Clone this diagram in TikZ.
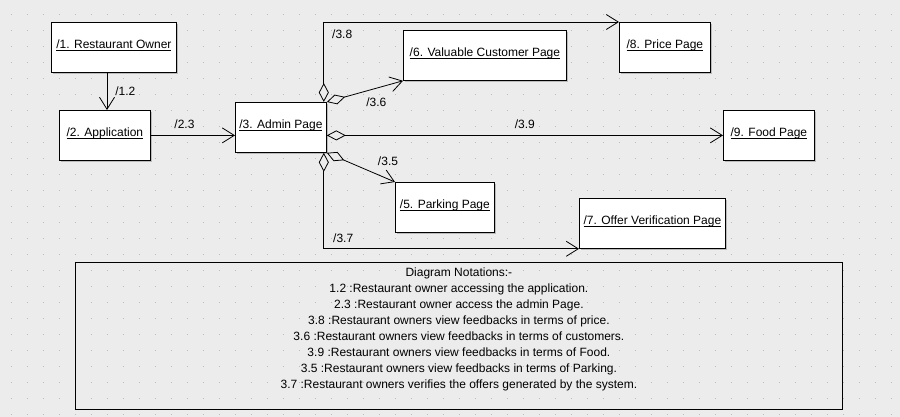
\documentclass[tikz,border=0pt]{standalone}
\usepackage{fontspec}
\setmainfont{Liberation Sans}
\usetikzlibrary{arrows.meta,shadows}

\definecolor{canvas}{RGB}{236,236,236}
\definecolor{dotgray}{RGB}{188,188,188}
\newsavebox\ulbox
\newcommand\uln[1]{\sbox\ulbox{#1}\rlap{\vrule height -1.6pt depth 2.4pt width \wd\ulbox}\usebox\ulbox}

\begin{document}
\begin{tikzpicture}
	[   x=1pt,y=-1pt,
		page/.style={draw=black,fill=white,line width=0.8pt,minimum width=#1,inner sep=0pt,
			text height=26pt,text depth=24pt,font=\fontsize{12}{14}\selectfont,
			drop shadow={shadow xshift=1.5pt,shadow yshift=-1.5pt,fill=black!45,opacity=.5}},
		lbl/.style={inner sep=1pt,font=\fontsize{12}{14}\selectfont},
	]
	\tikzset{flow/.style={draw,line width=0.8pt,-{Straight Barb[length=12pt,width=15pt]}}}
	\tikzset{part/.style={flow,{Diamond[open,length=19pt,width=10pt]}-{Straight Barb[length=12pt,width=15pt]}}}

	\fill[canvas] (0,0) rectangle (900,417);
	\useasboundingbox (0,0) rectangle (900,417);
	\foreach \i in {0,...,55}
	{
		\foreach \j in {0,...,25}
		{
			\fill[dotgray] (11.2+16*\i,14.2+16*\j) rectangle ++(1.2,1.2);
		}
	}

	\node[page=125pt,anchor=north west] (b1) at (51,22) {\uln{/1. Restaurant Owner}};
	\node[page=91pt,anchor=north west] (b2) at (59,110) {\uln{/2. Application}};
	\node[page=91pt,anchor=north west] (b3) at (235,102) {\uln{/3. Admin Page}};
	\node[page=163pt,anchor=north west] (b6) at (403,30) {\uln{/6. Valuable Customer Page}};
	\node[page=99pt,anchor=north west] (b5) at (395,182) {\uln{/5. Parking Page}};
	\node[page=91pt,anchor=north west] (b8) at (619,22) {\uln{/8. Price Page}};
	\node[page=91pt,anchor=north west] (b9) at (723,110) {\uln{/9. Food Page}};
	\node[page=146pt,anchor=north west] (b7) at (579,198) {\uln{/7. Offer Verification Page}};

	\path[flow] ([xshift=56pt]b1.south west) -- node[lbl,right=7pt] {/1.2} ([xshift=48pt]b2.north west);
	\path[flow] (b2.east) -- node[lbl,pos=0.4,above=5pt] {/2.3} (b2.east -| b3.west);

	\path[part] ([xshift=-3pt]b3.north east) |- node[lbl,pos=0.5,anchor=north west,xshift=7pt,yshift=-6pt] {/3.8} (b8.north west);
	\path[part] (b3.north east) -- node[lbl,pos=0.65,below=8pt] {/3.6} (b6.south west);
	\path[part] (b3.east |- b9.west) -- node[lbl,above=5pt] {/3.9} (b9.west);
	\path[part] (b3.south east) -- node[lbl,pos=1,anchor=south,xshift=-7pt,yshift=15pt] {/3.5} (b5.north west);
	\path[part] ([xshift=-3pt]b3.south east) |- node[lbl,pos=0.5,anchor=south west,xshift=8pt,yshift=5pt] {/3.7} (b7.south west);

	% notations
	\node[draw=black,line width=0.8pt,anchor=north west,minimum width=767pt,minimum height=147pt,inner sep=0pt] (notes) at (75,262) {};
	\node[anchor=north,inner sep=0pt,align=center,font=\fontsize{12}{16}\selectfont] (notetext) at ([yshift=-5.5pt]notes.north) {Diagram Notations:-\\
		1.2 :Restaurant owner accessing the application.\\
		2.3 :Restaurant owner access the admin Page.\\
		3.8 :Restaurant owners view feedbacks in terms of price.\\
		3.6 :Restaurant owners view feedbacks in terms of customers.\\
		3.9 :Restaurant owners view feedbacks in terms of Food.\\
		3.5 :Restaurant owners view feedbacks in terms of Parking.\\
		3.7 :Restaurant owners verifies the offers generated by the system.};

\end{tikzpicture}
\end{document}
